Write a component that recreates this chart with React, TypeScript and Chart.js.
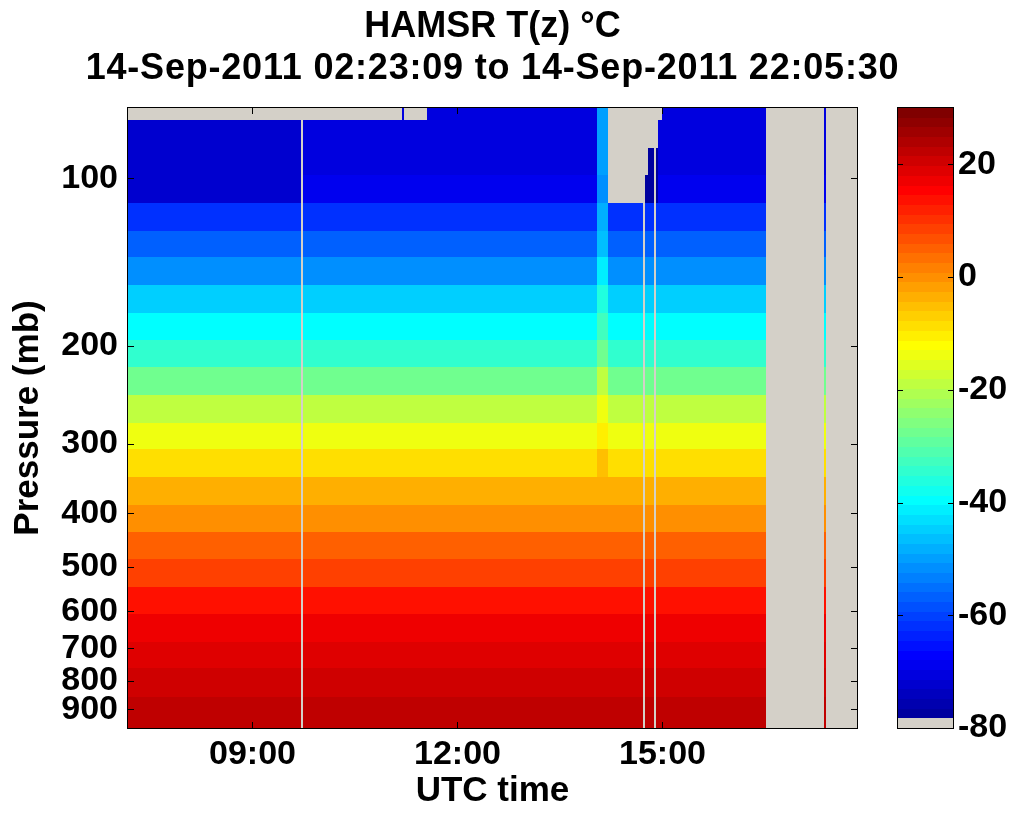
import React, { useEffect, useRef } from 'react';
import { Chart, registerables } from 'chart.js';

Chart.register(...registerables);

const FONT_FAMILY = '"Liberation Sans", Arial, Helvetica, sans-serif';
const NAN_COLOR = '#d4d0c8';

const TITLE_LINES = ['HAMSR T(z) °C', '14-Sep-2011 02:23:09 to 14-Sep-2011 22:05:30'];
const X_LABEL = 'UTC time';
const Y_LABEL = 'Pressure (mb)';

// tick values
const X_TICKS = [9, 12, 15]; // hours UTC
const Y_TICKS = [100, 200, 300, 400, 500, 600, 700, 800, 900]; // mb
const C_TICKS = [-80, -60, -40, -20, 0, 20]; // deg C

// axis ranges
const TIME_RANGE = [7.178, 17.847];
const PRESSURE_RANGE = [74.8, 973];
const COLOR_RANGE = [-80, 30];
const COLORMAP_SIZE = 64;

// retrieval level boundaries (mb), top to bottom
const PRESSURE_EDGES = [70, 78.7, 88.3, 98.8, 110.9, 124.5, 138.7, 155.7, 174.8, 195.5, 218.6, 245.4, 275.5, 306.9, 344.6, 386.9, 432.7, 483.8, 543.3, 607.4, 682, 759.5, 856, 1000];

// temperature profiles (deg C), one value per level, top to bottom
const PROFILE_MAIN = [-70, -70, -70, -68.5, -62, -56.5, -51, -45.5, -40, -35, -27, -19, -14, -8, -3, 0.5, 4.5, 8.5, 13, 17.5, 19.5, 21, 23];
const PROFILE_WEST = [-72, -72, -72, -72, -62, -56.5, -51, -45.5, -40, -35, -27, -19, -14, -8, -3, 0.5, 4.5, 8.5, 13, 17.5, 19.5, 21, 23];
const PROFILE_STREAK = [-50, -50, -50, -51, -49, -46, -42, -36, -32, -27, -19, -13, -10, -5.5, -3, 0.5, 4.5, 8.5, 13, 17.5, 19.5, 21, 23];
const PROFILE_NAVY = [-70, -70, -77, -77, -62, -56.5, -51, -45.5, -40, -35, -27, -19, -14, -8, -3, 0.5, 4.5, 8.5, 13, 17.5, 19.5, 21, 23];
const PROFILES = [PROFILE_MAIN, PROFILE_WEST, PROFILE_STREAK, PROFILE_NAVY];

// data segments along the flight (hours UTC); gaps between them are missing data
const SEG_START = [7.0, 9.74, 11.19, 11.22, 11.55, 14.04, 14.2, 14.745, 14.79, 14.905, 14.935, 14.99, 17.365];
const SEG_END = [9.71, 11.19, 11.22, 11.55, 14.04, 14.2, 14.715, 14.79, 14.875, 14.935, 14.99, 16.515, 17.395];
const SEG_PROFILE = [1, 0, 0, 0, 0, 2, 0, 3, 3, 3, 0, 0, 0];
const SEG_FIRST_LEVEL = [1, 1, 0, 1, 0, 0, 4, 3, 2, 2, 1, 0, 0];

function jetRow(i: number): string {
  // i is 1-based row of MATLAB jet(64)
  let r = 0, g = 0, b = 0;
  if (i <= 24) r = 0; else if (i <= 40) r = (i - 24) / 16; else if (i <= 56) r = 1; else r = (72 - i) / 16;
  if (i <= 8) g = 0; else if (i <= 24) g = (i - 8) / 16; else if (i <= 39) g = 1; else if (i <= 55) g = (56 - i) / 16; else g = 0;
  if (i <= 8) b = (i + 8) / 16; else if (i <= 23) b = 1; else if (i <= 39) b = (40 - i) / 16; else b = 0;
  return `rgb(${Math.round(r * 255)},${Math.round(g * 255)},${Math.round(b * 255)})`;
}

function colorIndex(v: number): number {
  const k = Math.floor(((v - COLOR_RANGE[0]) / (COLOR_RANGE[1] - COLOR_RANGE[0])) * COLORMAP_SIZE);
  return Math.max(0, Math.min(COLORMAP_SIZE - 1, k));
}

function colorForIndex(k: number): string {
  return k === 0 ? NAN_COLOR : jetRow(k + 1);
}

const heatmapPlugin = {
  id: 'heatmap',
  beforeDatasetsDraw(chart: any) {
    const { ctx, chartArea: a, scales } = chart;
    const xs = scales.x;
    const ys = scales.y;
    ctx.save();
    ctx.beginPath();
    ctx.rect(a.left, a.top, a.right - a.left, a.bottom - a.top);
    ctx.clip();
    ctx.fillStyle = NAN_COLOR;
    ctx.fillRect(a.left, a.top, a.right - a.left, a.bottom - a.top);
    for (let s = 0; s < SEG_START.length; s++) {
      const x0 = Math.round(xs.getPixelForValue(SEG_START[s]));
      const x1 = Math.round(xs.getPixelForValue(SEG_END[s]));
      const prof = PROFILES[SEG_PROFILE[s]];
      for (let k = SEG_FIRST_LEVEL[s]; k < prof.length; k++) {
        const y0 = Math.round(ys.getPixelForValue(PRESSURE_EDGES[k]));
        const y1 = Math.round(ys.getPixelForValue(PRESSURE_EDGES[k + 1]));
        ctx.fillStyle = colorForIndex(colorIndex(prof[k]));
        ctx.fillRect(x0, Math.min(y0, y1), x1 - x0, Math.abs(y1 - y0));
      }
    }
    ctx.restore();
  },
};

const framePlugin = {
  id: 'frame',
  afterDraw(chart: any) {
    const { ctx, chartArea: a, scales } = chart;
    const xs = scales.x;
    const ys = scales.y;
    const cs = scales.c;
    const tick = 6;
    ctx.save();
    ctx.strokeStyle = '#000';
    ctx.lineWidth = 1;
    // plot frame
    ctx.strokeRect(a.left - 0.5, a.top - 0.5, a.right - a.left + 1, a.bottom - a.top + 1);
    ctx.beginPath();
    X_TICKS.forEach((v) => {
      const x = Math.round(xs.getPixelForValue(v)) + 0.5;
      ctx.moveTo(x, a.bottom);
      ctx.lineTo(x, a.bottom - tick);
      ctx.moveTo(x, a.top);
      ctx.lineTo(x, a.top + tick);
    });
    Y_TICKS.forEach((v) => {
      const y = Math.round(ys.getPixelForValue(v)) + 0.5;
      ctx.moveTo(a.left, y);
      ctx.lineTo(a.left + tick, y);
      ctx.moveTo(a.right, y);
      ctx.lineTo(a.right - tick, y);
    });
    ctx.stroke();

    // colorbar
    const cbLeft = a.right + 41;
    const cbWidth = 55;
    const step = (COLOR_RANGE[1] - COLOR_RANGE[0]) / COLORMAP_SIZE;
    for (let k = 0; k < COLORMAP_SIZE; k++) {
      const v0 = COLOR_RANGE[0] + k * step;
      const v1 = v0 + step;
      const yTop = Math.round(cs.getPixelForValue(v1));
      const yBot = Math.round(cs.getPixelForValue(v0));
      ctx.fillStyle = colorForIndex(k);
      ctx.fillRect(cbLeft, yTop, cbWidth, yBot - yTop);
    }
    const cTop = Math.round(cs.getPixelForValue(COLOR_RANGE[1]));
    const cBot = Math.round(cs.getPixelForValue(COLOR_RANGE[0]));
    ctx.strokeRect(cbLeft - 0.5, cTop - 0.5, cbWidth + 1, cBot - cTop + 1);
    ctx.beginPath();
    C_TICKS.forEach((v) => {
      const y = Math.round(cs.getPixelForValue(v)) + 0.5;
      ctx.moveTo(cbLeft, y);
      ctx.lineTo(cbLeft + 5, y);
      ctx.moveTo(cbLeft + cbWidth, y);
      ctx.lineTo(cbLeft + cbWidth - 5, y);
    });
    ctx.stroke();

    // title (two lines, centred over the plot area)
    const cx = (a.left + a.right) / 2;
    ctx.fillStyle = '#000';
    ctx.textAlign = 'center';
    ctx.textBaseline = 'middle';
    ctx.font = `bold 36px ${FONT_FAMILY}`;
    ctx.fillText(TITLE_LINES[0], cx, 27);
    (ctx as any).letterSpacing = '0.8px';
    ctx.fillText(TITLE_LINES[1], cx, 69);
    (ctx as any).letterSpacing = '0px';
    ctx.restore();
  },
};

export default function App() {
  const ref = useRef<HTMLCanvasElement | null>(null);

  useEffect(() => {
    document.body.style.margin = '0';
    const canvas = ref.current;
    if (!canvas) return;
    const tickFont = { family: FONT_FAMILY, size: 34, weight: 'bold' as const };
    const labelFont = { family: FONT_FAMILY, size: 35, weight: 'bold' as const };
    const chart = new Chart(canvas, {
      type: 'scatter',
      data: { datasets: [{ data: [] }] },
      options: {
        responsive: false,
        animation: false,
        events: [],
        layout: { padding: { top: 108, left: 0, right: 0, bottom: 0 } },
        plugins: {
          legend: { display: false },
          tooltip: { enabled: false },
          title: { display: false },
        },
        scales: {
          x: {
            type: 'linear',
            position: 'bottom',
            min: TIME_RANGE[0],
            max: TIME_RANGE[1],
            grid: { display: false, drawTicks: false },
            border: { display: false },
            ticks: {
              font: tickFont,
              color: '#000',
              padding: 6,
              autoSkip: false,
              maxRotation: 0,
              callback: (v: any) => `${String(Math.floor(Number(v))).padStart(2, '0')}:00`,
            },
            afterBuildTicks: (s: any) => {
              s.ticks = X_TICKS.map((v) => ({ value: v }));
            },
            afterFit: (s: any) => {
              s.height = 91;
            },
            title: { display: true, text: X_LABEL, color: '#000', font: labelFont, padding: { top: 0, bottom: 7 } },
          },
          y: {
            type: 'logarithmic',
            position: 'left',
            reverse: true,
            min: PRESSURE_RANGE[0],
            max: PRESSURE_RANGE[1],
            grid: { display: false, drawTicks: false },
            border: { display: false },
            ticks: {
              font: tickFont,
              color: '#000',
              padding: 10,
              autoSkip: false,
              callback: (v: any) => String(v),
            },
            afterBuildTicks: (s: any) => {
              s.ticks = Y_TICKS.map((v) => ({ value: v }));
            },
            afterFit: (s: any) => {
              s.width = 128;
            },
            title: { display: true, text: Y_LABEL, color: '#000', font: labelFont, padding: { top: 7, bottom: 0 } },
          },
          c: {
            type: 'linear',
            axis: 'y',
            position: 'right',
            min: COLOR_RANGE[0],
            max: COLOR_RANGE[1],
            grid: { display: false, drawTicks: true, tickLength: 96 },
            border: { display: false },
            ticks: {
              font: tickFont,
              color: '#000',
              padding: 5,
              autoSkip: false,
              callback: (v: any) => String(v),
            },
            afterBuildTicks: (s: any) => {
              s.ticks = C_TICKS.map((v) => ({ value: v }));
            },
            afterFit: (s: any) => {
              s.width = 158;
            },
          },
        },
      } as any,
      plugins: [heatmapPlugin, framePlugin],
    });
    return () => chart.destroy();
  }, []);

  return <canvas ref={ref} width={1015} height={819} style={{ display: 'block' }} />;
}
